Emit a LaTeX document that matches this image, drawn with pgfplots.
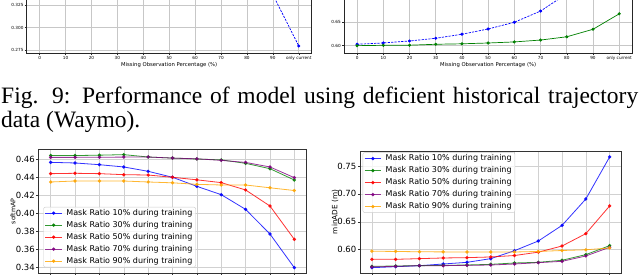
\documentclass[border=0pt]{standalone}
\usepackage{pgfplots}
\pgfplotsset{compat=1.18}
\usepackage{fontspec}
\setmainfont{DejaVu Sans}
\newfontfamily\capfont{Liberation Serif}
\definecolor{mplgreen}{rgb}{0,0.5,0}
\definecolor{mplpurple}{rgb}{0.5,0,0.5}
\definecolor{mplorange}{rgb}{1,0.647,0}

\pgfplotsset{
  common/.style={
    scale only axis,
    xmin=-0.5, xmax=10.5,
    xtick={0,1,2,3,4,5,6,7,8,9,10},
    grid=major,
    tick align=outside, tick pos=left,
    /pgf/number format/assume math mode=true,
  },
  topax/.style={
    common,
    xticklabels={0,10,20,30,40,50,60,70,80,90,only current},
    grid style={black!22, line width=0.6pt},
    axis line style={black!85, line width=0.5pt},
    major tick length=2pt,
    tick style={black!85, line width=0.4pt},
    ticklabel style={font=\fontsize{4.2}{5}\selectfont, inner sep=1pt},
    xlabel={Missing Observation Percentage (\%)},
    xlabel style={font=\fontsize{5.3}{6}\selectfont, at={(axis description cs:0.5,0)}, anchor=center, yshift=-12pt},
  },
  botax/.style={
    common,
    xticklabels={},
    grid style={black!18, line width=0.5pt},
    axis line style={black!80, line width=0.6pt},
    major tick length=2pt,
    tick style={black!80, line width=0.5pt},
    ticklabel style={font=\fontsize{8.5}{10}\selectfont, inner sep=1.5pt},
    legend cell align=left,
    legend style={font=\fontsize{8}{9.6}\selectfont, draw=black!20, fill=white,
      fill opacity=0.8, text opacity=1, rounded corners=2pt,
      inner xsep=1.4pt, inner ysep=0.5pt, row sep=1pt, column sep=2pt,
      nodes={inner xsep=2pt, inner ysep=1.5pt, text height=6.2pt, text depth=1.8pt}},
    legend image code/.code={\draw[mark repeat=2,mark phase=2,##1] plot coordinates {(0pt,0pt) (8.3pt,0pt) (16.7pt,0pt)};},
  },
  bl/.style={line width=0.8pt, opacity=0.8, mark=*, mark size=1.3pt},
}

\begin{document}
\begin{tikzpicture}
\useasboundingbox (0pt,0pt) rectangle (640pt,275pt);
\clip (0pt,0pt) rectangle (640pt,275pt);

% ---------- top left (cropped) ----------
\begin{axis}[topax, at={(26.7pt,221.7pt)}, anchor=south west,
  width=285pt, height=165.6pt, ymin=0.2717, ymax=0.4543,
  ytick={0.275,0.300,0.325,0.350,0.375,0.400,0.425,0.450}, yticklabels={0.275,0.300,0.325,,,,,}]
\addplot[blue, line width=0.7pt, dash pattern=on 2.2pt off 1.2pt, mark=*, mark size=1.2pt, mark options={solid}]
  coordinates {(9,0.3364) (10,0.2798)};
\end{axis}

% ---------- top right (cropped) ----------
\begin{axis}[topax, at={(344pt,221.7pt)}, anchor=south west,
  width=288.3pt, height=167.8pt, ymin=0.5837, ymax=0.9423,
  ytick={0.60,0.65,0.70,0.75,0.80,0.85,0.90}, yticklabels={0.60,0.65,,,,,}]
\addplot[blue, line width=0.7pt, dash pattern=on 2.2pt off 1.2pt, mark=*, mark size=1.2pt, mark options={solid}]
  coordinates {(0,0.603) (1,0.6058) (2,0.610) (3,0.6158) (4,0.6244) (5,0.6357) (6,0.650) (7,0.674) (8,0.711)};
\addplot[mplgreen, line width=0.7pt, mark=*, mark size=1.2pt]
  coordinates {(0,0.600) (1,0.6008) (2,0.601) (3,0.603) (4,0.604) (5,0.6057) (6,0.608) (7,0.612) (8,0.619) (9,0.635) (10,0.668)};
\end{axis}

% ---------- caption ----------
\node[anchor=base west, inner sep=0pt] at (1pt,171pt)
  {\capfont\fontsize{23.5}{26}\selectfont\makebox[637pt][s]{Fig. 9: Performance of model using deficient historical trajectory}};
\node[anchor=base west, inner sep=0pt] at (1pt,147pt)
  {\capfont\fontsize{23.5}{26}\selectfont data (Waymo).};

% ---------- bottom left ----------
\begin{axis}[botax, at={(38.5pt,1.7pt)}, anchor=south west,
  width=268pt, height=124pt, ymin=0.3338, ymax=0.4707,
  ytick={0.34,0.36,0.38,0.40,0.42,0.44,0.46}, yticklabels={0.34,0.36,0.38,0.40,0.42,0.44,0.46},
  ylabel={softmAP}, ylabel style={font=\fontsize{6.3}{7.5}\selectfont, at={(axis description cs:-0.0951,0.5)}, anchor=center},
  legend style={at={(0.018,0.048)}, anchor=south west}]
\addplot[bl, blue] coordinates {(0,0.4563) (1,0.4556) (2,0.4537) (3,0.4512) (4,0.4464) (5,0.4398) (6,0.4298) (7,0.4206) (8,0.4044) (9,0.3772) (10,0.3400)};
\addplot[bl, mplgreen] coordinates {(0,0.4638) (1,0.4638) (2,0.4642) (3,0.4648) (4,0.4622) (5,0.4610) (6,0.4600) (7,0.4590) (8,0.4552) (9,0.4493) (10,0.4368)};
\addplot[bl, red] coordinates {(0,0.4438) (1,0.4442) (2,0.4438) (3,0.4427) (4,0.4423) (5,0.4398) (6,0.4370) (7,0.4339) (8,0.4258) (9,0.4081) (10,0.3713)};
\addplot[bl, mplpurple] coordinates {(0,0.4618) (1,0.4618) (2,0.4619) (3,0.4621) (4,0.4622) (5,0.4610) (6,0.4602) (7,0.4585) (8,0.4562) (9,0.4512) (10,0.4394)};
\addplot[bl, mplorange] coordinates {(0,0.4346) (1,0.4357) (2,0.4357) (3,0.4357) (4,0.4346) (5,0.4337) (6,0.4320) (7,0.4313) (8,0.4313) (9,0.4282) (10,0.4252)};
\legend{Mask Ratio 10\% during training, Mask Ratio 30\% during training, Mask Ratio 50\% during training, Mask Ratio 70\% during training, Mask Ratio 90\% during training}
\end{axis}

% ---------- bottom right ----------
\begin{axis}[botax, at={(360pt,1.9pt)}, anchor=south west,
  width=261.5pt, height=122.2pt, ymin=0.558, ymax=0.777,
  ytick={0.60,0.65,0.70,0.75}, yticklabels={0.60,0.65,0.70,0.75},
  ylabel={minADE (m)}, ylabel style={font=\fontsize{7.3}{8.5}\selectfont, at={(axis description cs:-0.0956,0.5)}, anchor=center},
  legend style={at={(0.010,0.988)}, anchor=north west}]
\addplot[bl, blue] coordinates {(0,0.5677) (1,0.5695) (2,0.5713) (3,0.5743) (4,0.5773) (5,0.5839) (6,0.5982) (7,0.6155) (8,0.6436) (9,0.6908) (10,0.7661)};
\addplot[bl, mplgreen] coordinates {(0,0.5701) (1,0.5707) (2,0.5713) (3,0.5719) (4,0.5725) (5,0.5737) (6,0.5761) (7,0.5773) (8,0.5810) (9,0.5911) (10,0.6072)};
\addplot[bl, red] coordinates {(0,0.5827) (1,0.5827) (2,0.5839) (3,0.5851) (4,0.5857) (5,0.5869) (6,0.5895) (7,0.5955) (8,0.6066) (9,0.6287) (10,0.6783)};
\addplot[bl, mplpurple] coordinates {(0,0.5690) (1,0.5701) (2,0.5713) (3,0.5713) (4,0.5719) (5,0.5725) (6,0.5743) (7,0.5767) (8,0.5791) (9,0.5887) (10,0.6042)};
\addplot[bl, mplorange] coordinates {(0,0.5972) (1,0.5968) (2,0.5962) (3,0.5960) (4,0.5958) (5,0.5958) (6,0.5958) (7,0.5968) (8,0.5985) (9,0.5998) (10,0.6030)};
\legend{Mask Ratio 10\% during training, Mask Ratio 30\% during training, Mask Ratio 50\% during training, Mask Ratio 70\% during training, Mask Ratio 90\% during training}
\end{axis}
\end{tikzpicture}
\end{document}
